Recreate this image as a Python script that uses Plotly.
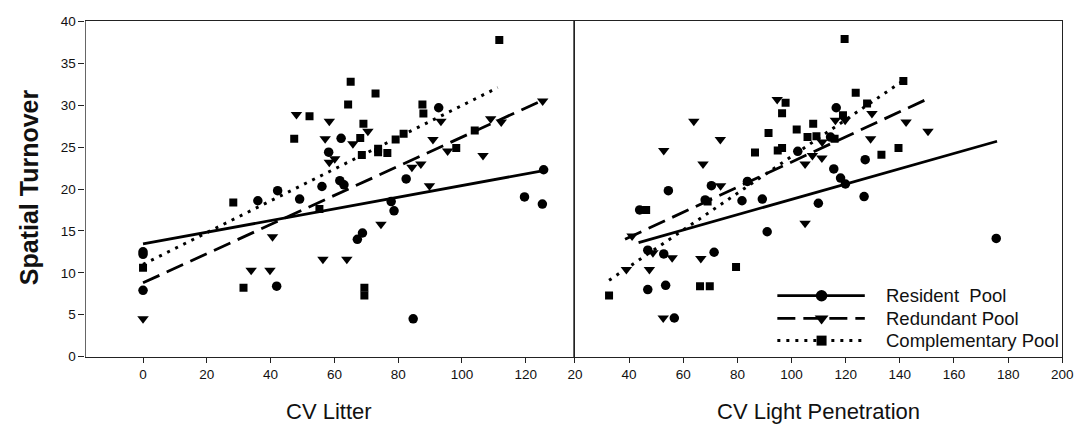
import plotly.graph_objects as go

# ---------------- Left panel: CV Litter ----------------
litter_res_x = [0, 0, 0, 36, 41.9, 42.2, 49.1, 56.1, 58.2, 61.7, 62.1, 63.0, 67.2, 68.8, 77.8, 78.7, 82.5, 84.7, 92.7, 119.6, 125.2, 125.6]
litter_res_y = [12.5, 12.2, 7.9, 18.6, 8.4, 19.8, 18.8, 20.3, 24.4, 21.0, 26.05, 20.5, 14.0, 14.75, 18.5, 17.4, 21.2, 4.5, 29.7, 19.05, 18.2, 22.3]

litter_red_x = [0, 33.9, 39.8, 40.6, 48.1, 56.4, 57.1, 58.4, 58.4, 60.1, 63.9, 65.8, 70.5, 74.6, 84.3, 87.1, 89.8, 90.9, 93.4, 95.5, 106.6, 109.0, 112.3, 125.3]
litter_red_y = [4.5, 10.3, 10.3, 14.3, 28.9, 11.6, 26.0, 28.1, 23.2, 23.6, 11.6, 25.4, 26.9, 15.8, 22.6, 23.0, 20.4, 25.9, 28.1, 24.55, 24.0, 28.4, 28.0, 30.5]

litter_com_x = [0, 28.3, 31.5, 47.4, 52.2, 55.3, 64.3, 65.1, 68.1, 68.6, 69.1, 69.4, 69.4, 72.9, 73.7, 73.7, 76.6, 79.2, 81.7, 87.6, 87.9, 98.2, 104.0, 111.7]
litter_com_y = [10.6, 18.4, 8.2, 26.0, 28.7, 17.6, 30.1, 32.8, 26.1, 24.05, 27.8, 8.2, 7.3, 31.4, 24.8, 24.4, 24.3, 25.9, 26.6, 30.1, 29.0, 24.9, 27.0, 37.8]

litter_res_fit_x = [0, 125.6]
litter_res_fit_y = [13.45, 22.2]
litter_red_fit_x = [0, 125.3]
litter_red_fit_y = [8.8, 30.6]
litter_com_fit_x = [0, 111.2]
litter_com_fit_y = [11.0, 32.1]

# ---------------- Right panel: CV Light Penetration ----------------
light_res_x = [43.9, 46.9, 46.9, 52.8, 53.5, 54.5, 56.7, 68.1, 70.4, 71.4, 81.7, 83.7, 89.2, 91.0, 102.3, 109.9, 114.4, 115.6, 116.5, 118.1, 119.9, 126.8, 127.2, 175.6]
light_res_y = [17.5, 12.7, 8.0, 12.25, 8.5, 19.8, 4.6, 18.7, 20.4, 12.45, 18.6, 20.9, 18.8, 14.9, 24.5, 18.3, 26.2, 22.4, 29.7, 21.3, 20.6, 19.1, 23.5, 14.1]

light_red_x = [39.0, 41.1, 47.5, 48.8, 52.6, 52.8, 55.9, 63.9, 66.5, 67.3, 73.7, 73.8, 94.7, 105.0, 105.0, 107.7, 111.3, 111.2, 116.2, 119.8, 129.2, 129.7, 142.3, 150.4]
light_red_y = [10.4, 14.4, 10.4, 12.4, 4.6, 24.6, 11.8, 28.1, 11.7, 23.0, 25.9, 20.4, 30.7, 23.0, 15.9, 24.0, 25.6, 23.7, 28.2, 28.2, 26.0, 29.0, 28.0, 26.9]

light_com_x = [32.6, 46.3, 66.2, 69.0, 69.8, 79.5, 86.5, 91.5, 94.9, 96.5, 96.5, 97.8, 101.9, 105.9, 108.0, 109.2, 115.9, 119.0, 119.6, 123.7, 127.9, 133.2, 139.5, 141.3]
light_com_y = [7.3, 17.5, 8.4, 18.5, 8.4, 10.7, 24.35, 26.7, 24.6, 24.9, 29.05, 30.3, 27.1, 26.2, 27.8, 26.3, 26.0, 28.8, 37.9, 31.5, 30.2, 24.1, 24.9, 32.9]

light_res_fit_x = [43.5, 175.9]
light_res_fit_y = [13.6, 25.7]
light_red_fit_x = [38.5, 150.5]
light_red_fit_y = [14.0, 30.8]
light_com_fit_x = [32.6, 141.1]
light_com_fit_y = [9.1, 32.9]

series_names = ["Resident  Pool", "Redundant Pool", "Complementary Pool"]
symbols = ["circle", "triangle-down", "square"]
sizes = [9.5, 10, 8]
dashes = ["solid", "18px,8px", "3px,6px"]
widths = [2.8, 2.8, 3]

litter_tick_vals = [0, 20, 40, 60, 80, 100, 120]
light_tick_vals = [20, 40, 60, 80, 100, 120, 140, 160, 180, 200]
y_tick_vals = [0, 5, 10, 15, 20, 25, 30, 35, 40]

W, H = 1090, 436

fig = go.Figure()

panels = [
    ("x", "y", [litter_res_x, litter_red_x, litter_com_x], [litter_res_y, litter_red_y, litter_com_y],
     [(litter_res_fit_x, litter_res_fit_y), (litter_red_fit_x, litter_red_fit_y), (litter_com_fit_x, litter_com_fit_y)]),
    ("x2", "y2", [light_res_x, light_red_x, light_com_x], [light_res_y, light_red_y, light_com_y],
     [(light_res_fit_x, light_res_fit_y), (light_red_fit_x, light_red_fit_y), (light_com_fit_x, light_com_fit_y)]),
]

for xa, ya, xs, ys, fits in panels:
    for i in range(3):
        fx, fy = fits[i]
        fig.add_trace(go.Scatter(x=fx, y=fy, mode="lines", xaxis=xa, yaxis=ya,
                                 line=dict(color="black", width=widths[i], dash=dashes[i]),
                                 showlegend=False, hoverinfo="skip"))
        fig.add_trace(go.Scatter(x=xs[i], y=ys[i], mode="markers", xaxis=xa, yaxis=ya,
                                 marker=dict(symbol=symbols[i], size=sizes[i], color="black",
                                             line=dict(width=0)),
                                 showlegend=False))

# ---- custom legend drawn on an overlay axis measured in pixels ----
leg_line_x0, leg_line_x1, leg_marker_x, leg_text_x = 783, 872, 828, 892
leg_rows_y = [299, 322.5, 345.5]
for i in range(3):
    fig.add_trace(go.Scatter(x=[leg_line_x0, leg_line_x1], y=[leg_rows_y[i]] * 2, mode="lines",
                             xaxis="x3", yaxis="y3", showlegend=False, hoverinfo="skip",
                             line=dict(color="black", width=widths[i], dash=dashes[i])))
    fig.add_trace(go.Scatter(x=[leg_marker_x], y=[leg_rows_y[i]], mode="markers",
                             xaxis="x3", yaxis="y3", showlegend=False, hoverinfo="skip",
                             marker=dict(symbol=symbols[i], size=sizes[i] + 2, color="black",
                                         line=dict(width=0))))

font_family = "Liberation Sans, Arial, sans-serif"
axis_line = "#222222"

x_dom_left = [79 / W, 575 / W]
x_dom_right = [577 / W, 1073 / W]
y_dom = [(H - 362) / H, (H - 15) / H]

annotations = [
    dict(text="CV Litter", x=(x_dom_left[0] + x_dom_left[1]) / 2, y=(H - 419) / H,
         xref="paper", yref="paper", xanchor="center", yanchor="middle",
         showarrow=False, font=dict(size=22)),
    dict(text="CV Light Penetration", x=(x_dom_right[0] + x_dom_right[1]) / 2, y=(H - 419) / H,
         xref="paper", yref="paper", xanchor="center", yanchor="middle",
         showarrow=False, font=dict(size=22)),
    dict(text="<b>Spatial Turnover</b>", x=21 / W, y=(H - 187) / H,
         xref="paper", yref="paper", xanchor="center", yanchor="middle",
         showarrow=False, textangle=-90, font=dict(size=25)),
]
for i in range(3):
    annotations.append(dict(text=series_names[i].replace("  ", "&nbsp; "), x=leg_text_x, y=leg_rows_y[i],
                            xref="x3", yref="y3", xanchor="left", yanchor="middle",
                            showarrow=False, font=dict(size=18.5)))

fig.update_layout(
    width=W, height=H,
    margin=dict(l=0, r=0, t=0, b=0),
    paper_bgcolor="white", plot_bgcolor="rgba(0,0,0,0)",
    font=dict(family=font_family, color="#111111", size=13),
    showlegend=False,
    xaxis=dict(domain=x_dom_left, range=[-18, 134.8], tickvals=litter_tick_vals,
               ticks="outside", ticklen=5, tickwidth=1, tickcolor=axis_line,
               showline=True, linecolor=axis_line, linewidth=1.3, mirror=True,
               showgrid=False, zeroline=False, anchor="y",
               tickfont=dict(size=13.5)),
    yaxis=dict(domain=y_dom, range=[0, 40], tickvals=y_tick_vals,
               ticks="outside", ticklen=6, tickwidth=1, tickcolor=axis_line,
               showline=True, linecolor="#666666", linewidth=1.3, mirror=True,
               showgrid=False, zeroline=False, anchor="x",
               tickfont=dict(size=13.5)),
    xaxis2=dict(domain=x_dom_right, range=[20, 200], tickvals=light_tick_vals,
                ticks="outside", ticklen=5, tickwidth=1, tickcolor=axis_line,
                showline=True, linecolor=axis_line, linewidth=1.3, mirror=True,
                showgrid=False, zeroline=False, anchor="y2",
                tickfont=dict(size=13.5)),
    yaxis2=dict(domain=y_dom, range=[0, 40], showticklabels=False, ticks="",
                showline=True, linecolor=axis_line, linewidth=1.3, mirror=True,
                showgrid=False, zeroline=False, anchor="x2"),
    xaxis3=dict(domain=[0, 1], range=[0, W], visible=False, fixedrange=True, anchor="y3"),
    yaxis3=dict(domain=[0, 1], range=[H, 0], visible=False, fixedrange=True, anchor="x3"),
    annotations=annotations,
)

fig.write_html("out.html", post_script="document.body.style.margin='0';")
